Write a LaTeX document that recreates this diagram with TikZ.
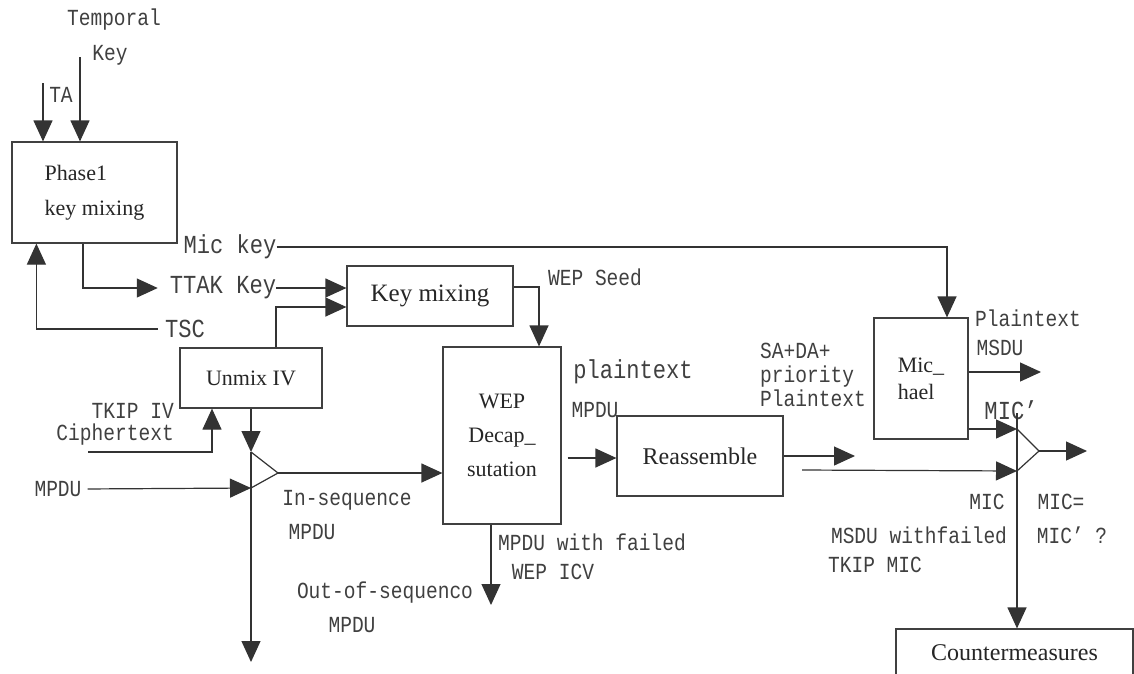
\documentclass[tikz,border=0pt]{standalone}
\usepackage{fontspec}
\setmainfont{Liberation Serif}
\newfontfamily\lblfont{Liberation Mono}[FakeStretch=0.85]
\usetikzlibrary{arrows.meta}
\tikzset{
  blk/.style={
    draw=black!75,
    line width=1.2pt,
    inner sep=0pt,
    text=black!85,
    font=\fontsize{22}{34}\selectfont
  },
  lbl/.style={
    inner sep=0pt,
    text=black!75,
    font=\lblfont\fontsize{23}{24}\selectfont
  },
  lblbig/.style={
    lbl,
    font=\lblfont\fontsize{26}{28}\selectfont
  },
  wire/.style={
    line width=1.2pt,
    draw=black!80
  },
  arr/.style={
    wire,
    -{Triangle[length=21pt,width=19pt]}
  }
}

\begin{document}
\begin{tikzpicture}[x=1pt,y=-1pt]
\useasboundingbox[fill=white] (0,0) rectangle (1134,673);
\clip (0,0) rectangle (1134,673);
% blocks
\node[blk, minimum width=165pt, minimum height=101pt, align=left, font=\fontsize{22}{35}\selectfont] (phase) at (94.5,192.5) {Phase1\\key mixing};
\node[blk, minimum width=166pt, minimum height=60pt, font=\fontsize{25}{30}\selectfont] (keymix) at (430,296) {Key mixing};
\node[blk, minimum width=142pt, minimum height=60pt] (unmix) at (251,378) {Unmix IV};
\node[blk, minimum width=118pt, minimum height=177pt, align=center] (wep) at (502,435.5) {WEP\\Decap\_\\sutation};
\node[blk, minimum width=166pt, minimum height=80pt, font=\fontsize{24}{30}\selectfont] (reass) at (700,456) {Reassemble};
\node[blk, minimum width=94pt, minimum height=121pt, align=left, font=\fontsize{22}{27}\selectfont] (mich) at (921,378.5) {Mic\_\\hael};
\node[blk, minimum width=237pt, minimum height=48pt, font=\fontsize{24}{30}\selectfont] (cm) at (1014.5,653) {Countermeasures};
% labels
\node[lbl] (temporal) at (114,20) {Temporal};
\node[lbl] (tkey) at (110,55) {Key};
\node[lbl] (ta) at (61,95) {TA};
\node[lblbig] (mickey) at (230,247) {Mic key};
\node[lblbig] (ttak) at (223,288) {TTAK Key};
\node[lblbig] (tsc) at (185,329) {TSC};
\node[lbl] (wepseed) at (595,277) {WEP Seed};
\node[lbl, align=right, anchor=east, font=\lblfont\fontsize{23}{22}\selectfont] (tkipiv) at (174,424) {TKIP IV\\Ciphertext};
\node[lbl] (mpdu) at (58,489) {MPDU};
\node[lbl] (inseq) at (347,500) {In-sequence};
\node[lbl] (inseqm) at (312,532) {MPDU};
\node[lbl] (outseq) at (385,593) {Out-of-sequenco};
\node[lbl] (outseqm) at (352,625) {MPDU};
\node[lblbig] (plain) at (633,372) {plaintext};
\node[lbl] (plainm) at (595,410) {MPDU};
\node[lbl] (failed) at (592,542) {MPDU with failed};
\node[lbl] (icv) at (553,572) {WEP ICV};
\node[lbl, align=left, anchor=west] (sada) at (760,375) {SA+DA+\\priority\\Plaintext};
\node[lbl] (plainr) at (1028,318) {Plaintext};
\node[lbl] (msdu) at (1000,348) {MSDU};
\node[lblbig] (micp) at (1011,410) {MIC’};
\node[lbl] (mic) at (987,502) {MIC};
\node[lbl] (miceq) at (1061,502) {MIC=};
\node[lbl] (msduf) at (919,535) {MSDU withfailed};
\node[lbl] (micq) at (1072,535) {MIC’ ?};
\node[lbl] (tkipmic) at (875,565) {TKIP MIC};
% free ends and corners
\coordinate (ta-in) at (43,83);
\coordinate (tk-in) at (80,57);
\coordinate (tkip-in) at (88,452);
\coordinate (sw-top) at (251,452);
\coordinate (sw-tip) at (278,473);
\coordinate (sw-bot) at (251,488);
\coordinate (sw-end) at (251,662);
\coordinate (fail-end) at (491,605);
\coordinate (reass-out) at (855,456);
\coordinate (plain-in) at (802,470);
\coordinate (mich-out) at (1041,372);
\coordinate (cmp-line) at (1017,413);
\coordinate (cmp-top) at (1017,429);
\coordinate (cmp-tip) at (1039,451);
\coordinate (cmp-bot) at (1017,471);
\coordinate (cmp-out) at (1087,451);
% connectors
\draw[arr] (ta-in) -- (ta-in |- phase.north);
\draw[arr] (tk-in) -- (tk-in |- phase.north);
\draw[arr, shorten >=12pt] ([xshift=-11.5pt]phase.south) |- (ttak.west);
\draw[arr] (ttak.east) -- (ttak.east -| keymix.west);
\draw[arr, shorten <=7pt] (tsc.west) -| ([xshift=25pt]phase.south west);
\draw[arr] (mickey.east) -| ([xshift=26pt]mich.north);
\draw[arr] ([xshift=25pt]unmix.north) |- ([yshift=-11pt]keymix.west);
\draw[arr] ([yshift=9pt]keymix.east) -| ([xshift=37pt]wep.north);
\draw[arr] (unmix.south) -- (sw-top);
\draw[arr] (tkip-in) -| ([xshift=-39pt]unmix.south);
\draw[arr, shorten <=6pt] (mpdu.east) -- (sw-bot);
\draw[wire] (sw-top) -- (sw-tip) -- (sw-bot);
\draw[arr] (sw-tip) -- (sw-tip -| wep.west);
\draw[arr] (sw-top) -- (sw-end);
\draw[arr] (fail-end |- wep.south) -- (fail-end);
\draw[arr] ([xshift=6pt,yshift=-22.5pt]wep.east) -- ([yshift=-22.5pt]wep.east -| reass.west);
\draw[arr] (reass.east) -- (reass-out);
\draw[arr] (plain-in) -- (cmp-bot);
\draw[arr] (mich.east |- mich-out) -- (mich-out);
\draw[arr] (mich.east |- cmp-top) -- (cmp-top);
\draw[wire] (cmp-top) -- (cmp-tip) -- (cmp-bot);
\draw[arr] (cmp-tip) -- (cmp-out);
\draw[arr] (cmp-line) -- (cmp-line |- cm.north);
\end{tikzpicture}
\end{document}
